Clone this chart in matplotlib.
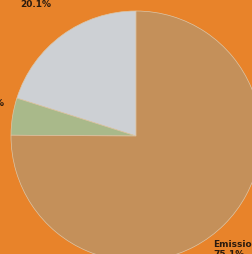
import matplotlib
matplotlib.use('Agg')
import matplotlib.pyplot as plt

# slice values (percent), counter-clockwise from the top
values = [20.1, 4.8, 75.1]
labels = ['20.1%', '4.8%', 'Emissions\n75.1%']
colors = ['#cdd0d4', '#a9b98a', '#c4905a']

# label positions in pie units (radius 1)
label_pos = [(-0.80, 1.06), (-1.05, 0.27), (0.62, -0.90)]
label_ha = ['center', 'right', 'left']

fig = plt.figure(figsize=(2.53, 2.55), dpi=100)
fig.patch.set_facecolor('#e8832a')
ax = fig.add_axes([0, 0, 1, 1])
ax.set_facecolor('#e8832a')

ax.pie(values, colors=colors, startangle=90, counterclock=True,
       wedgeprops=dict(edgecolor='#dcc6a8', linewidth=0.5))

for txt, (x, y), ha in zip(labels, label_pos, label_ha):
    ax.text(x, y, txt, ha=ha, va='center', fontsize=6.5, fontweight='bold',
            color='#2a1a0e', linespacing=1.1)

# pie centre at about (136, 137) px, radius about 125 px
ax.set_xlim(-136 / 125, (253 - 136) / 125)
ax.set_ylim(-(255 - 137) / 125, 137 / 125)
ax.set_aspect('auto')
ax.axis('off')

fig.savefig('out.png', dpi=100, facecolor=fig.get_facecolor())
